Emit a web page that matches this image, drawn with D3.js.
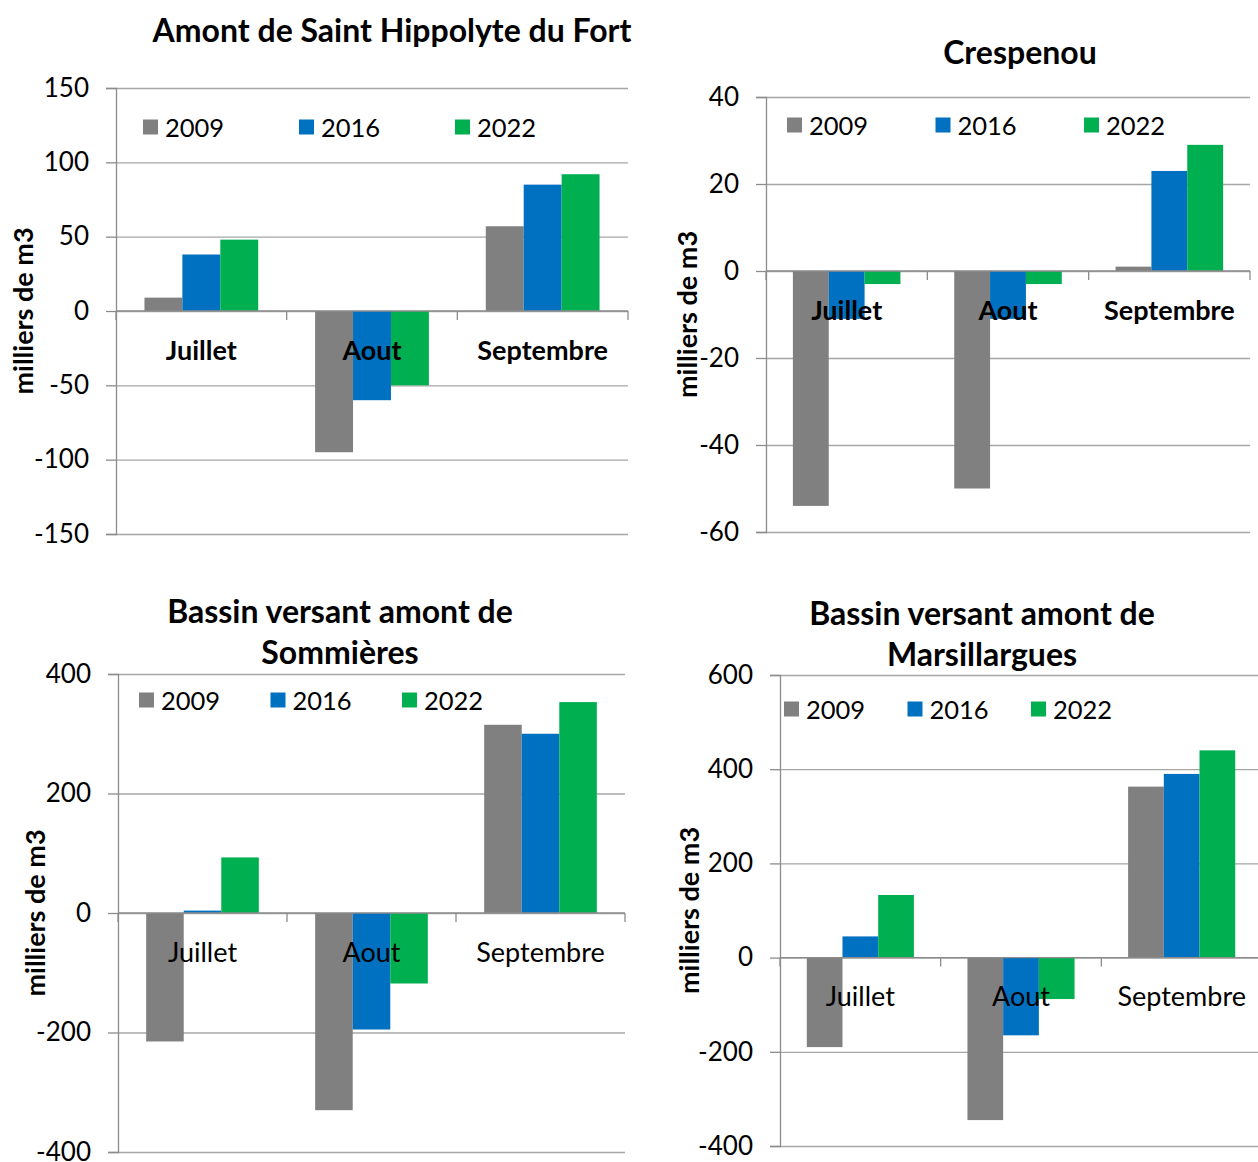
<!DOCTYPE html>
<html lang="fr">
<head>
<meta charset="UTF-8">
<title>Bilans mensuels</title>
<script src="https://d3js.org/d3.v7.min.js"></script>
<style>
    body { margin: 0; background: #fff; }
    svg { display: block; }
    text { font-family: Lato, "Open Sans", sans-serif; fill: #000; }
</style>
</head>
<body>
<svg width="1258" height="1162"></svg>
<script>
    // categories / series
    const months = ["Juillet", "Aout", "Septembre"];
    const years = ["2009", "2016", "2022"];
    const colors = ["#808080", "#0070C0", "#00B050"];

    // Amont de Saint Hippolyte du Fort
    const shf2009 = [9, -95, 57];
    const shf2016 = [38, -60, 85];
    const shf2022 = [48, -50, 92];
    const shfTicks = [-150, -100, -50, 0, 50, 100, 150];

    // Crespenou
    const cres2009 = [-54, -50, 1];
    const cres2016 = [-11, -11, 23];
    const cres2022 = [-3, -3, 29];
    const cresTicks = [-60, -40, -20, 0, 20, 40];

    // Bassin versant amont de Sommieres
    const somm2009 = [-215, -330, 315];
    const somm2016 = [4, -195, 300];
    const somm2022 = [93, -118, 353];
    const sommTicks = [-400, -200, 0, 200, 400];

    // Bassin versant amont de Marsillargues
    const mars2009 = [-190, -345, 363];
    const mars2016 = [45, -165, 390];
    const mars2022 = [133, -88, 440];
    const marsTicks = [-400, -200, 0, 200, 400, 600];

    const svg = d3.select("svg");

    // layout of each panel
    const panels = [
        {title: ["Amont de Saint Hippolyte du Fort"], tx: 392, ty: 29,
         series: [shf2009, shf2016, shf2022], ticks: shfTicks,
         left: 116, right: 628, top: 88, bottom: 534,
         legY: 127, legX: 143, legStep: 156, yTitleX: 22, catBold: true},
        {title: ["Crespenou"], tx: 1020, ty: 51,
         series: [cres2009, cres2016, cres2022], ticks: cresTicks,
         left: 766, right: 1250, top: 97, bottom: 532,
         legY: 125, legX: 787, legStep: 148.5, yTitleX: 686, catBold: true},
        {title: ["Bassin versant amont de", "Sommières"], tx: 340, ty: 610,
         series: [somm2009, somm2016, somm2022], ticks: sommTicks,
         left: 118, right: 625, top: 674, bottom: 1152,
         legY: 700, legX: 139, legStep: 131.5, yTitleX: 34, catBold: false},
        {title: ["Bassin versant amont de", "Marsillargues"], tx: 982, ty: 612,
         series: [mars2009, mars2016, mars2022], ticks: marsTicks,
         left: 780, right: 1262, top: 675, bottom: 1146,
         legY: 709, legX: 784, legStep: 123.5, yTitleX: 688, catBold: false}
    ];

    panels.forEach(p => {
        const g = svg.append("g");

        const y = d3.scaleLinear()
            .domain(d3.extent(p.ticks))
            .range([p.bottom, p.top]);

        const x0 = d3.scaleBand()
            .domain(months)
            .range([p.left, p.right])
            .padding(0);

        // excel gap width 150%
        const x1 = d3.scaleBand()
            .domain(years)
            .range([0, x0.bandwidth()])
            .paddingInner(0)
            .paddingOuter(0.75);

        // gridlines
        g.append("g")
            .attr("transform", `translate(${p.left},0)`)
            .call(d3.axisLeft(y).tickValues(p.ticks).tickSize(-(p.right - p.left)).tickFormat(""))
            .call(a => a.select(".domain").remove())
            .call(a => a.selectAll("line").attr("stroke", "#a6a6a6").attr("stroke-width", 1.3));

        // bars
        const rows = [];
        months.forEach((m, i) => {
            years.forEach((yr, j) => rows.push({month: m, year: yr, value: p.series[j][i], c: colors[j]}));
        });

        g.append("g")
            .selectAll("rect")
            .data(rows)
            .join("rect")
            .attr("x", d => x0(d.month) + x1(d.year))
            .attr("width", x1.bandwidth())
            .attr("y", d => y(Math.max(0, d.value)))
            .attr("height", d => Math.abs(y(d.value) - y(0)))
            .attr("fill", d => d.c);

        // y axis
        const ya = g.append("g")
            .attr("transform", `translate(${p.left},0)`)
            .call(d3.axisLeft(y).tickValues(p.ticks).tickSize(10).tickPadding(17).tickFormat(d3.format("d")));
        ya.select(".domain").attr("stroke", "#8c8c8c").attr("stroke-width", 1.3);
        ya.selectAll("line").attr("stroke", "#8c8c8c").attr("stroke-width", 1.3);
        ya.selectAll("text")
            .attr("font-size", 26)
            .attr("fill", "#000")
            .style("font-family", "Lato, 'Open Sans', sans-serif")
            .text(d => d < 0 ? "-" + Math.abs(d) : d);

        // x axis at zero
        const xa = g.append("g").attr("transform", `translate(0,${y(0)})`);
        xa.append("line")
            .attr("x1", p.left).attr("x2", p.right)
            .attr("stroke", "#8c8c8c").attr("stroke-width", 1.3);
        xa.selectAll(".ctick")
            .data(months.map(m => x0(m)).concat([p.right]))
            .join("line")
            .attr("class", "ctick")
            .attr("x1", d => d).attr("x2", d => d)
            .attr("y1", 0).attr("y2", 9)
            .attr("stroke", "#8c8c8c").attr("stroke-width", 1.3);
        xa.selectAll(".clab")
            .data(months)
            .join("text")
            .attr("class", "clab")
            .attr("x", d => x0(d) + x0.bandwidth() / 2)
            .attr("y", 38)
            .attr("text-anchor", "middle")
            .attr("dominant-baseline", "central")
            .attr("font-size", 27)
            .attr("font-weight", p.catBold ? "bold" : "normal")
            .text(d => d);

        // legend
        const leg = g.append("g");
        years.forEach((yr, j) => {
            const lx = p.legX + j * p.legStep;
            leg.append("rect")
                .attr("x", lx).attr("y", p.legY - 7.5)
                .attr("width", 15).attr("height", 15)
                .attr("fill", colors[j]);
            leg.append("text")
                .attr("x", lx + 22).attr("y", p.legY)
                .attr("dominant-baseline", "central")
                .attr("font-size", 25.5)
                .text(yr);
        });

        // y title
        g.append("text")
            .attr("transform", `translate(${p.yTitleX},${(p.top + p.bottom) / 2}) rotate(-90)`)
            .attr("text-anchor", "middle")
            .attr("dominant-baseline", "central")
            .attr("font-size", 27)
            .attr("font-weight", "bold")
            .text("milliers de m3");

        // title
        p.title.forEach((t, k) => {
            g.append("text")
                .attr("x", p.tx).attr("y", p.ty + k * 41)
                .attr("text-anchor", "middle")
                .attr("dominant-baseline", "central")
                .attr("font-size", 32)
                .attr("font-weight", "bold")
                .text(t);
        });
    });
</script>
</body>
</html>
